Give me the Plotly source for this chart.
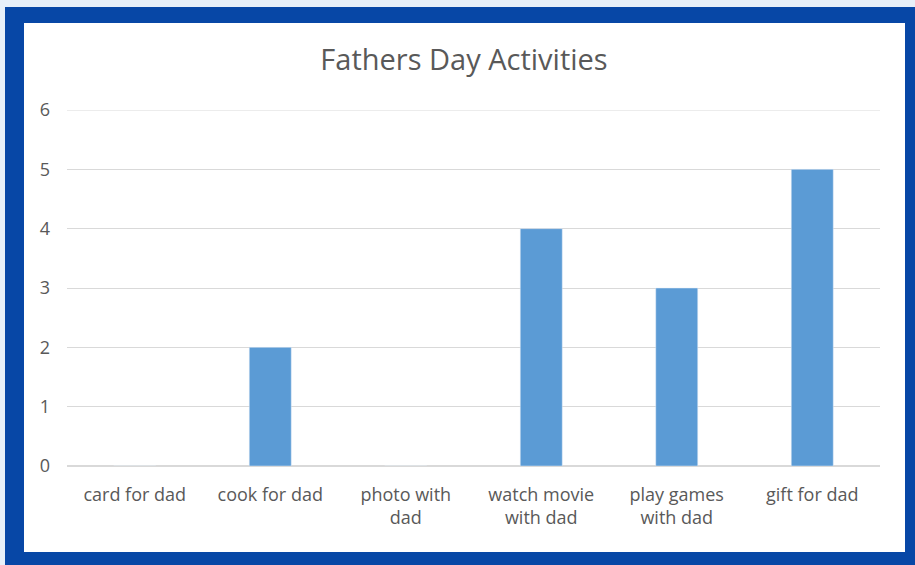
import plotly.graph_objects as go

categories = ["card for dad", "cook for dad", "photo with<br>dad", "watch movie<br>with dad",
              "play games<br>with dad", "gift for dad"]
values = [0, 2, 0, 4, 3, 5]
y_ticks = [0, 1, 2, 3, 4, 5, 6]

W, H = 915, 565
ML, MR, MT, MB = 67, 35, 110, 99
PW, PH = W - ML - MR, H - MT - MB

def px(x):
    return (x - ML) / PW

def py(y):
    return 1 - (y - MT) / PH

fig = go.Figure(go.Bar(
    x=categories, y=values, marker_color="#5b9bd5", width=0.31, hoverinfo="x+y"))

fig.update_layout(
    width=W, height=H,
    margin=dict(l=ML, r=MR, t=MT, b=MB),
    paper_bgcolor="#e7f0f9",
    plot_bgcolor="white",
    showlegend=False,
    title=dict(text="Fathers Day Activities", x=464 / W, xanchor="center",
               y=1 - 60 / H, yanchor="middle",
               font=dict(family="Open Sans", size=29, color="#595959")),
    font=dict(family="Open Sans", size=18, color="#595959"),
    shapes=[
        dict(type="rect", xref="paper", yref="paper", layer="below",
             x0=px(5), x1=px(930), y0=py(7), y1=py(580),
             fillcolor="#0747a6", line_width=0),
        dict(type="rect", xref="paper", yref="paper", layer="below",
             x0=px(24), x1=px(905), y0=py(23), y1=py(552),
             fillcolor="white", line_width=0),
        dict(type="line", xref="paper", yref="y", x0=0, x1=1, y0=6, y1=6,
             line=dict(color="#d9d9d9", width=1), layer="below"),
    ],
)
fig.update_xaxes(showgrid=False, showline=True, linecolor="#d9d9d9", linewidth=1,
                 ticks="", ticklabelstandoff=12, tickfont=dict(size=18, color="#595959"))
fig.update_yaxes(range=[0, 6], tickvals=y_ticks, showgrid=True, gridcolor="#d9d9d9",
                 zeroline=True, zerolinecolor="#d9d9d9", showline=False,
                 ticks="", ticklabelstandoff=16, tickfont=dict(size=18, color="#595959"))

fig.write_html("out.html")
